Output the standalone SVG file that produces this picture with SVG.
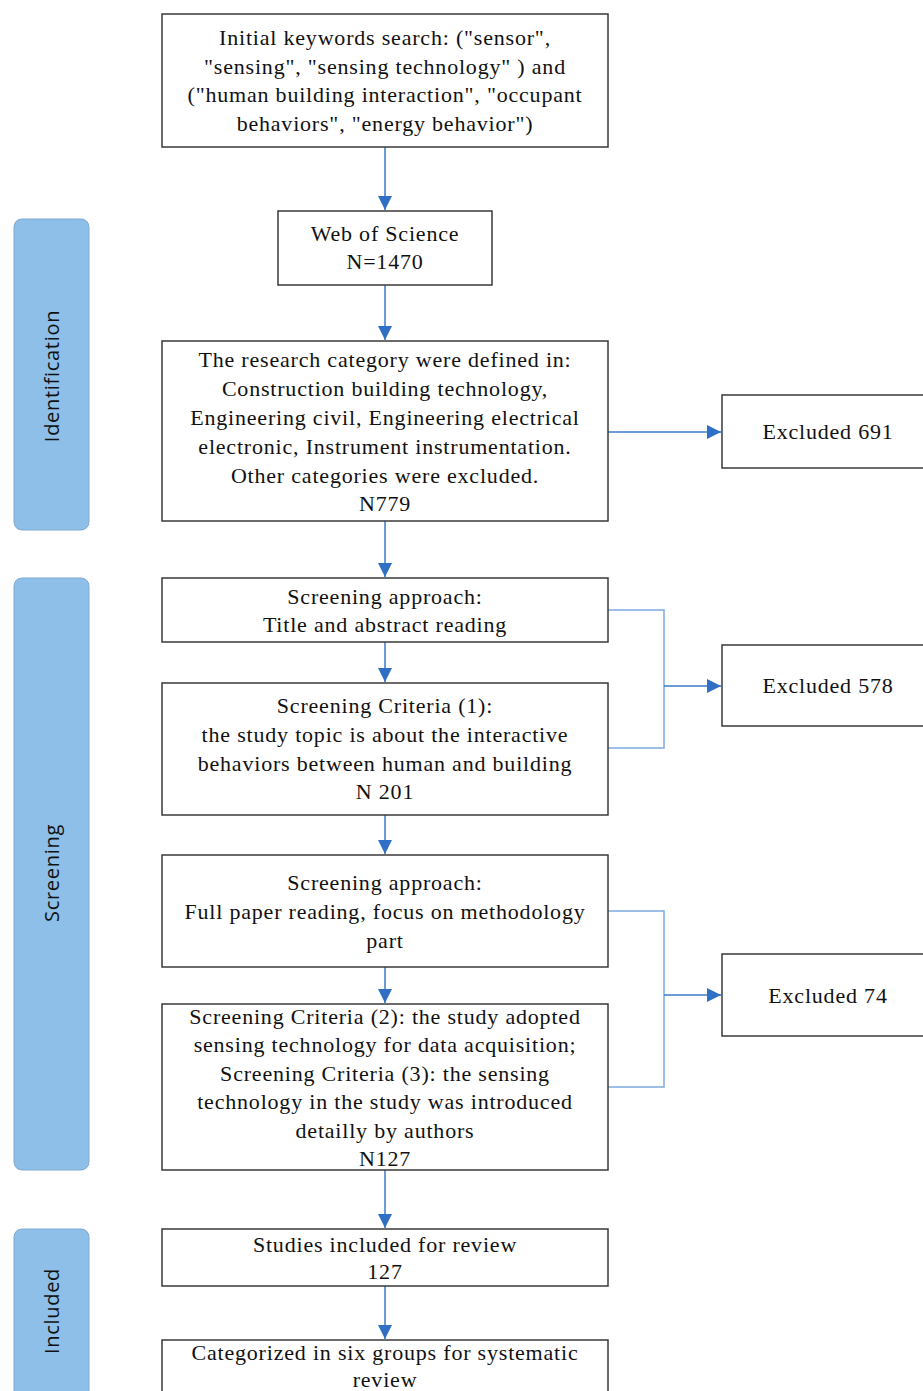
<svg xmlns="http://www.w3.org/2000/svg" width="923" height="1391" viewBox="0 0 923 1391">
<style>
.box{fill:#fff;stroke:#3a3a3a;stroke-width:1.5}
.bar{fill:#8dbfe8;stroke:#7fa9d0;stroke-width:1}
.t{font-family:"Liberation Serif",serif;font-size:22px;letter-spacing:0.8px;fill:#111;text-anchor:middle}
.s{font-family:"Open Sans","DejaVu Sans",sans-serif;font-size:20px;letter-spacing:0.7px;fill:#111;text-anchor:middle}
.c{fill:none;stroke:#3a7bc8;stroke-width:1.5}
.b{fill:none;stroke:#7ea9de;stroke-width:1.5}
</style>
<defs>
<marker id="av" viewBox="0 0 14 20" markerWidth="14" markerHeight="20" refX="14" refY="10" orient="auto" markerUnits="userSpaceOnUse">
<path d="M0,3 L14,10 L0,17 Z" fill="#2f6fc4"/>
</marker>
</defs>
<rect width="923" height="1391" fill="#fff"/>
<g id="bar-identification"><rect class="bar" x="14" y="219" width="75" height="311" rx="8"/><text class="s" transform="translate(59,376) rotate(-90)">Identification</text></g>
<g id="bar-screening"><rect class="bar" x="14" y="578" width="75" height="592" rx="8"/><text class="s" transform="translate(59,873) rotate(-90)">Screening</text></g>
<g id="bar-included"><rect class="bar" x="14" y="1229" width="75" height="180" rx="8"/><text class="s" transform="translate(59,1311) rotate(-90)">Included</text></g>
<g id="connectors">
<line class="c" x1="385" y1="147" x2="385" y2="210" marker-end="url(#av)"/>
<line class="c" x1="385" y1="285" x2="385" y2="340" marker-end="url(#av)"/>
<line class="c" x1="385" y1="521" x2="385" y2="577" marker-end="url(#av)"/>
<line class="c" x1="385" y1="642" x2="385" y2="682" marker-end="url(#av)"/>
<line class="c" x1="385" y1="815" x2="385" y2="854" marker-end="url(#av)"/>
<line class="c" x1="385" y1="967" x2="385" y2="1003" marker-end="url(#av)"/>
<line class="c" x1="385" y1="1170" x2="385" y2="1228" marker-end="url(#av)"/>
<line class="c" x1="385" y1="1286" x2="385" y2="1339" marker-end="url(#av)"/>
<line class="c" x1="608" y1="432" x2="721" y2="432" marker-end="url(#av)"/>
<path class="b" d="M608,610 H664 V748 H608"/>
<line class="c" x1="664" y1="686" x2="721" y2="686" marker-end="url(#av)"/>
<path class="b" d="M608,911 H664 V1087 H608"/>
<line class="c" x1="664" y1="995" x2="721" y2="995" marker-end="url(#av)"/>
</g>
<g id="n1"><rect class="box" x="162" y="14" width="446" height="133"/>
<text class="t" x="385" y="45">Initial keywords search:  ("sensor",</text>
<text class="t" x="385" y="74">"sensing", "sensing technology" ) and</text>
<text class="t" x="385" y="102">("human building interaction", "occupant</text>
<text class="t" x="385" y="131">behaviors",  "energy behavior")</text></g>
<g id="n2"><rect class="box" x="278" y="211" width="214" height="74"/>
<text class="t" x="385" y="241">Web of Science</text>
<text class="t" x="385" y="269">N=1470</text></g>
<g id="n3"><rect class="box" x="162" y="341" width="446" height="180"/>
<text class="t" x="385" y="367">The research category were defined in:</text>
<text class="t" x="385" y="396">Construction building technology,</text>
<text class="t" x="385" y="425">Engineering civil, Engineering electrical</text>
<text class="t" x="385" y="454">electronic, Instrument instrumentation.</text>
<text class="t" x="385" y="483">Other categories were excluded.</text>
<text class="t" x="385" y="511">N779</text></g>
<g id="n4"><rect class="box" x="162" y="578" width="446" height="64"/>
<text class="t" x="385" y="604">Screening approach:</text>
<text class="t" x="385" y="632">Title and abstract reading</text></g>
<g id="n5"><rect class="box" x="162" y="683" width="446" height="132"/>
<text class="t" x="385" y="713">Screening Criteria (1):</text>
<text class="t" x="385" y="742">the study topic is about the interactive</text>
<text class="t" x="385" y="771">behaviors between human and building</text>
<text class="t" x="385" y="799">N 201</text></g>
<g id="n6"><rect class="box" x="162" y="855" width="446" height="112"/>
<text class="t" x="385" y="890">Screening approach:</text>
<text class="t" x="385" y="919">Full paper reading, focus on methodology</text>
<text class="t" x="385" y="948">part</text></g>
<g id="n7"><rect class="box" x="162" y="1004" width="446" height="166"/>
<text class="t" x="385" y="1024">Screening Criteria (2): the study adopted</text>
<text class="t" x="385" y="1052">sensing technology for data acquisition;</text>
<text class="t" x="385" y="1081">Screening Criteria (3): the sensing</text>
<text class="t" x="385" y="1109">technology in the study was introduced</text>
<text class="t" x="385" y="1138">detailly  by  authors</text>
<text class="t" x="385" y="1166">N127</text></g>
<g id="n8"><rect class="box" x="162" y="1229" width="446" height="57"/>
<text class="t" x="385" y="1252">Studies included for review</text>
<text class="t" x="385" y="1279">127</text></g>
<g id="n9"><rect class="box" x="162" y="1340" width="446" height="70"/>
<text class="t" x="385" y="1360">Categorized in six groups for systematic</text>
<text class="t" x="385" y="1387">review</text></g>
<g id="x1"><rect class="box" x="722" y="395" width="220" height="73"/>
<text class="t" x="828" y="439">Excluded 691</text></g>
<g id="x2"><rect class="box" x="722" y="645" width="220" height="81"/>
<text class="t" x="828" y="693">Excluded 578</text></g>
<g id="x3"><rect class="box" x="722" y="954" width="220" height="82"/>
<text class="t" x="828" y="1003">Excluded 74</text></g>
</svg>
